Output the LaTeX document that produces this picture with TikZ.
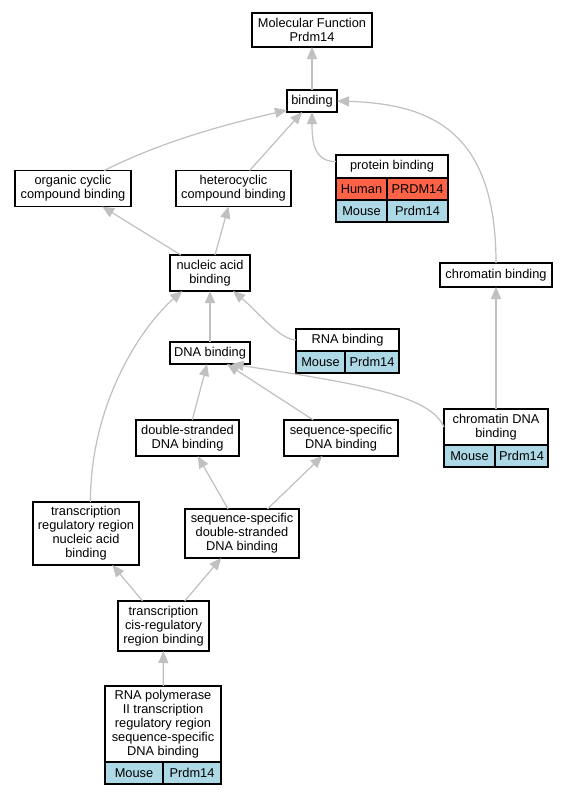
\documentclass[tikz,border=0pt]{standalone}
\usepackage{fontspec}
\setmainfont{Liberation Sans}
\usepackage{tikz}
\usetikzlibrary{arrows.meta, positioning}

\definecolor{humanred}{HTML}{FF6347}
\definecolor{mouseblue}{HTML}{ADD8E6}
\definecolor{edgegray}{HTML}{C0C0C0}

\tikzset{
	term/.style={draw, line width=1.1pt, inner sep=1pt, outer sep=0pt, align=center,
		font=\fontsize{12.8}{14}\selectfont},
	cell/.style={term, minimum height=22pt},
	human/.style={cell, fill=humanred},
	mouse/.style={cell, fill=mouseblue},
	isa/.style={draw=edgegray, line width=1.2pt,
		arrows={-Triangle[length=12pt, width=10pt, color=edgegray, fill=edgegray]}}
}

\begin{document}
\begin{tikzpicture}[x=1pt, y=-1pt]

\path [fill=white] (0,0) rectangle (568,795);

% top level
\node [term, minimum width=120pt, minimum height=34pt] (mf) at (312,30) {
	Molecular Function \\ Prdm14};
\node [term, minimum width=50pt, minimum height=22pt] (bind) at (312,101) {binding};

\path [isa] (bind) edge (mf);

% next level
\node [term, minimum width=116pt, minimum height=36pt] (ocb) at (73,188.5) {
	organic cyclic \\ compound binding};
\node [term, minimum width=115pt, minimum height=36pt] (hcb) at (233.5,188.5) {
	heterocyclic \\ compound binding};
\node [term, minimum width=112pt, minimum height=23pt] (pb) at (392,166.5) {protein binding};
\node [human, minimum width=51pt, below=0pt of pb.south west, anchor=north west] (pbh1) {Human};
\node [human, minimum width=61pt, right=0pt of pbh1] (pbh2) {PRDM14};
\node [mouse, minimum width=51pt, below=0pt of pbh1] (pbm1) {Mouse};
\node [mouse, minimum width=61pt, right=0pt of pbm1] (pbm2) {Prdm14};

\path [isa] (hcb) edge (bind);
\draw [isa] (ocb.30) .. controls +(60,-30) and +(-60,14) .. (bind.200);
\draw [isa] (pb.175) .. controls +(-22,0) and +(0,30) .. (bind.south);

% next level
\node [term, minimum width=80pt, minimum height=36pt] (nab) at (210,273) {
	nucleic acid \\ binding};
\node [term, minimum width=112pt, minimum height=24pt] (chb) at (496,275) {chromatin binding};

\path [isa] (nab) edge (ocb);
\path [isa] (nab) edge (hcb);
\draw [isa] (chb.north) .. controls +(0,-133) and +(93,3) .. (bind.east);

% next level
\node [term, minimum width=80pt, minimum height=22pt] (dna) at (210,353) {DNA binding};
\node [term, minimum width=103pt, minimum height=22pt] (rna) at (347.5,340) {RNA binding};
\node [mouse, minimum width=49pt, below=0pt of rna.south west, anchor=north west] (rnam1) {Mouse};
\node [mouse, minimum width=54pt, right=0pt of rnam1] (rnam2) {Prdm14};

\path [isa] (dna) edge (nab);
\draw [isa] (rna.west) .. controls +(-16,0) and +(24,20) .. (nab.-38);

% next level
\node [term, minimum width=103pt, minimum height=36pt] (dsb) at (187.5,438) {
	double-stranded \\ DNA binding};
\node [term, minimum width=114pt, minimum height=36pt] (ssb) at (341,438) {
	sequence-specific \\ DNA binding};
\node [term, minimum width=104pt, minimum height=36pt] (cdb) at (496,427) {
	chromatin DNA \\ binding};
\node [mouse, minimum width=51pt, below=0pt of cdb.south west, anchor=north west] (cdbm1) {Mouse};
\node [mouse, minimum width=53pt, right=0pt of cdbm1] (cdbm2) {Prdm14};

\path [isa] (dsb) edge (dna);
\path [isa] (ssb) edge (dna);
\path [isa] (cdb) edge (chb);
\draw [isa] (cdb.west) .. controls +(-14,-32) and +(128,20) .. (dna.-27);

% next level
\node [term, minimum width=106pt, minimum height=63pt] (trr) at (86,533.5) {
	transcription \\ regulatory region \\ nucleic acid \\ binding};
\node [term, minimum width=114pt, minimum height=49pt] (ssds) at (242,533.5) {
	sequence-specific \\ double-stranded \\ DNA binding};

\path [isa] (ssds) edge (dsb);
\path [isa] (ssds) edge (ssb);
\draw [isa] (trr.82) .. controls +(0,-100) and +(-40,35) .. (nab.213);

% next level
\node [term, minimum width=91pt, minimum height=50pt] (cis) at (163.5,626) {
	transcription \\ cis-regulatory \\ region binding};

\path [isa] (cis) edge (trr);
\path [isa] (cis) edge (ssds);

% bottom level
\node [term, minimum width=116pt, minimum height=76pt] (rnap) at (163,724) {
	RNA polymerase \\ II transcription \\ regulatory region \\ sequence-specific \\ DNA binding};
\node [mouse, minimum width=58pt, below=0pt of rnap.south west, anchor=north west] (rnapm1) {Mouse};
\node [mouse, minimum width=58pt, right=0pt of rnapm1] (rnapm2) {Prdm14};

\path [isa] (rnap) edge (cis);

\end{tikzpicture}
\end{document}
